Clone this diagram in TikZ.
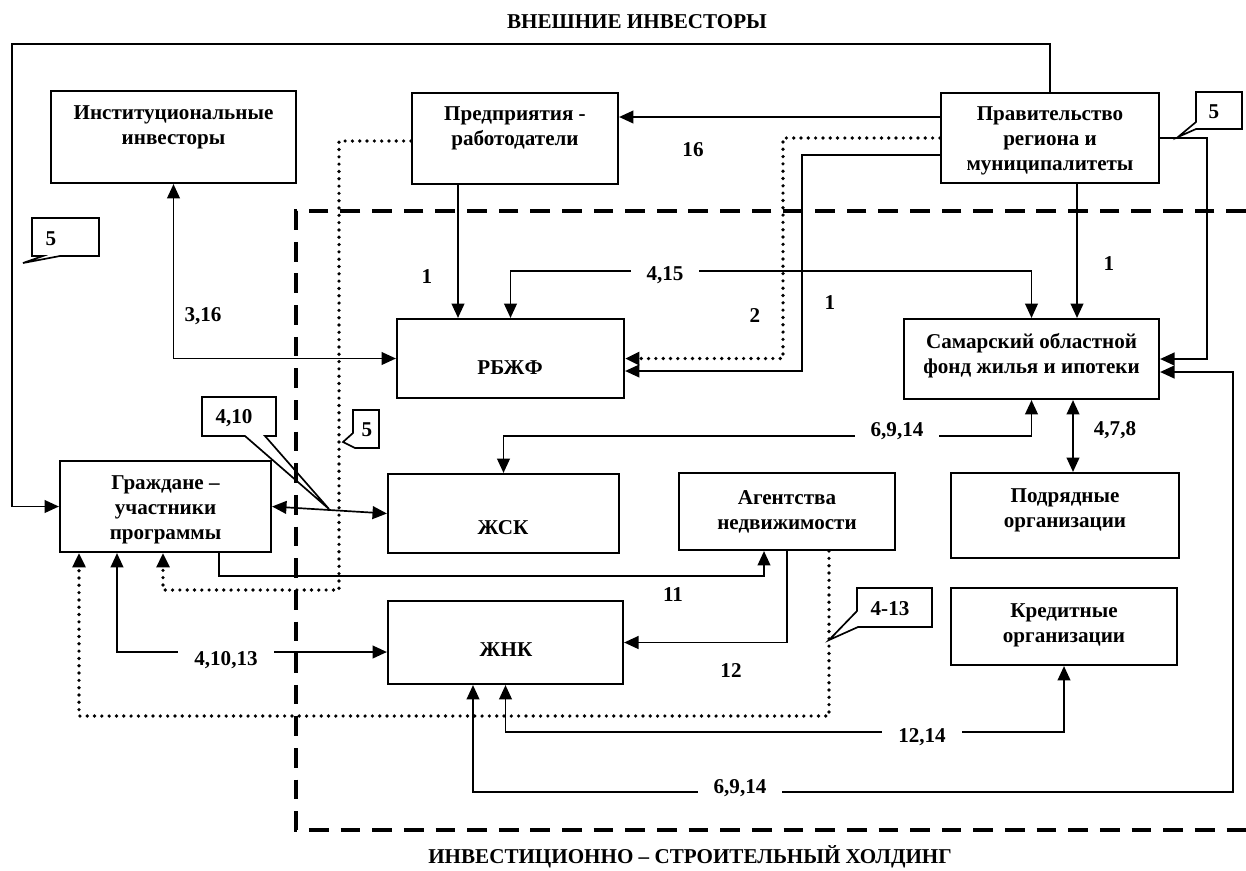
\documentclass[tikz,border=0pt]{standalone}
\usepackage{fontspec}
\setmainfont{Liberation Serif}
\usetikzlibrary{arrows.meta, positioning, calc}

\begin{document}
\begin{tikzpicture}[
    x=0.025cm, y=-0.025cm,
    font=\fontsize{15}{17.8}\selectfont\bfseries,
    block/.style={draw, line width=1.5pt, inner sep=0pt},
    blocktext/.style={align=center, inner sep=0pt, yshift=-0.075cm},
    arrow/.style={-{Triangle[length=0.36cm, width=0.32cm]}, line width=1.2pt},
    biarrow/.style={{Triangle[length=0.36cm, width=0.32cm]}-{Triangle[length=0.36cm, width=0.32cm]}, line width=1.2pt},
    dotarrow/.style={arrow, line width=2.6pt, line cap=round, dash pattern=on 0pt off 5.2pt},
    num/.style={inner sep=2pt},
    cutnum/.style={fill=white, inner xsep=0.4cm, inner ysep=3pt},
    frame/.style={line width=2.6pt, dash pattern=on 14pt off 8.5pt},
    callout/.style={draw, line width=1.2pt}
]
    \useasboundingbox (0,0) rectangle (1246,870);

    % Frame lines
    \coordinate (topline) at (0,44);
    \coordinate (leftline) at (12,0);
    \draw[frame] (1246,211) -| (296,830) -- (1246,830);

    % Blocks
    \node[block, minimum width=6.125cm, minimum height=2.3cm] (institutional) at (173.5,137) {};
    \node[block, minimum width=5.15cm, minimum height=2.275cm] (employers) at (515,138.5) {};
    \node[block, minimum width=5.45cm, minimum height=2.25cm] (government) at (1050,138) {};
    \node[block, minimum width=5.675cm, minimum height=1.975cm] (rbzhf) at (510.5,358.5) {};
    \node[block, minimum width=6.375cm, minimum height=2cm] (samarafund) at (1031.5,359) {};
    \node[block, minimum width=5.275cm, minimum height=2.275cm] (citizens) at (165.5,506.5) {};
    \node[block, minimum width=5.775cm, minimum height=1.975cm] (zhsk) at (503.5,513.5) {};
    \node[block, minimum width=5.4cm, minimum height=1.925cm] (agencies) at (787,511.5) {};
    \node[block, minimum width=5.7cm, minimum height=2.125cm] (contractors) at (1065,515.5) {};
    \node[block, minimum width=5.875cm, minimum height=2.075cm] (zhnk) at (505.5,642.5) {};
    \node[block, minimum width=5.65cm, minimum height=1.925cm] (creditors) at (1064,626.5) {};

    % Block texts
    \node[blocktext] (institutional-text) at (173.5,124.5) {Институциональные\\инвесторы};
    \node[blocktext] (employers-text) at (515,125.5) {Предприятия -\\работодатели};
    \node[blocktext] (government-text) at (1050,138) {Правительство\\региона и\\муниципалитеты};
    \node[blocktext] (rbzhf-text) at (510,365) {РБЖФ};
    \node[blocktext] (samarafund-text) at (1031.5,352.5) {Самарский областной\\фонд жилья и ипотеки};
    \node[blocktext] (citizens-text) at (165.5,507) {Граждане –\\участники\\программы};
    \node[blocktext] (zhsk-text) at (503,525) {ЖСК};
    \node[blocktext] (agencies-text) at (787,508.5) {Агентства\\недвижимости};
    \node[blocktext] (contractors-text) at (1065,507.5) {Подрядные\\организации};
    \node[blocktext] (zhnk-text) at (506,647) {ЖНК};
    \node[blocktext] (creditors-text) at (1064,622.5) {Кредитные\\организации};

    % Connections
    \draw[arrow] (government.north) |- (leftline |- topline) |- (citizens.west);
    \draw[arrow] (government.west |- 0,117) -- (employers.east |- 0,117);
    \draw[dotarrow] (government.west) -| (rbzhf.east -| 783,0) -- (rbzhf.east);
    \draw[arrow] (government.west |- 0,155) -| (802,371) -- (rbzhf.east |- 0,371);
    \draw[arrow] (government.south -| 1077,0) -- (samarafund.north -| 1077,0);
    \draw[arrow] (government.east) -| (samarafund.east -| 1207,0) -- (samarafund.east);
    \draw[arrow] (employers.south -| 458,0) -- (rbzhf.north -| 458,0);
    \draw[dotarrow] (employers.west |- 0,141) -| (339,590) -| (citizens.south -| 163,0);
    \draw[biarrow] (rbzhf.north) |- (samarafund.north |- 0,271) -- (samarafund.north);
    \draw[biarrow] (institutional.south) |- (rbzhf.west);
    \draw[biarrow] (zhsk.north) |- (samarafund.south |- 0,436) -- (samarafund.south);
    \draw[biarrow] (samarafund.south -| 1073,0) -- (contractors.north -| 1073,0);
    \draw[biarrow] (citizens.east) -- (zhsk.west);
    \draw[arrow] (citizens.south -| 219,0) |- (764,576) -- (agencies.south -| 764,0);
    \draw[arrow] (agencies.south) |- (zhnk.east);
    \draw[dotarrow] (agencies.south -| 829,0) |- (79,716) -- (citizens.south -| 79,0);
    \draw[biarrow] (citizens.south -| 117,0) |- (zhnk.west |- 0,652);
    \draw[biarrow] (zhnk.south) |- (creditors.south |- 0,732) -- (creditors.south);
    \draw[biarrow] (zhnk.south -| 473,0) |- (1233,792) |- (samarafund.east |- 0,372);

    % Flow numbers
    \node[num] (n16) at (693,150) {16};
    \node[num] (n1a) at (427,277) {1};
    \node[cutnum] (n415) at (665,275) {4,15};
    \node[num] (n2) at (755,316) {2};
    \node[num] (n1b) at (830,303) {1};
    \node[num] (n1c) at (1109,264) {1};
    \node[num] (n316) at (203,316) {3,16};
    \node[cutnum] (n6914a) at (897,431) {6,9,14};
    \node[num] (n478) at (1115,430) {4,7,8};
    \node[num] (n11) at (673,595) {11};
    \node[num] (n12) at (731,671) {12};
    \node[cutnum] (n41013) at (226,660) {4,10,13};
    \node[cutnum] (n1214) at (922,737) {12,14};
    \node[cutnum] (n6914b) at (740,788) {6,9,14};

    % Callouts
    \draw[callout] (32,218) -- (99,218) -- (99,256) -- (60,256) -- (23,263) -- (43,256) -- (32,256) -- cycle;
    \node[num] (note5left) at (51,239) {5};
    \draw[callout] (1196,92) -- (1242,92) -- (1242,129) -- (1196,129) -- (1178,137) -- (1196,122) -- cycle;
    \node[num] (note5right) at (1214,112) {5};
    \draw[callout] (202,397) -- (276,397) -- (276,436) -- (265,436) -- (329,509) -- (245,436) -- (202,436) -- cycle;
    \node[num] (note410) at (234,418) {4,10};
    \draw[callout] (353,410) -- (379,410) -- (379,448) -- (355,448) -- (343,442) -- (353,433) -- cycle;
    \node[num] (note5mid) at (367,430) {5};
    \draw[callout] (857,588) -- (932,588) -- (932,627) -- (858,627) -- (829,640) -- (857,611) -- cycle;
    \node[num] (note413) at (890,609) {4-13};

    % Titles
    \node (outside) at (637,22) {ВНЕШНИЕ ИНВЕСТОРЫ};
    \node (holding) at (690,857) {ИНВЕСТИЦИОННО – СТРОИТЕЛЬНЫЙ ХОЛДИНГ};

\end{tikzpicture}
\end{document}
